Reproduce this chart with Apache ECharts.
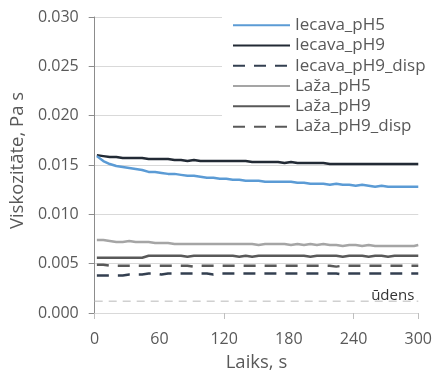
<!DOCTYPE html>
<html>
<head>
<meta charset="utf-8">
<script src="https://cdn.jsdelivr.net/npm/echarts@6/dist/echarts.min.js"></script>
<style>
  html, body { margin: 0; padding: 0; background: #fff; }
  #chart { width: 435px; height: 378px; }
</style>
</head>
<body>
<div id="chart"></div>
<script>
// Measurement times, s
const times = [2, 8, 14, 20, 26, 32, 38, 44, 50, 56, 62, 68, 74, 80, 86, 92, 98, 104, 110, 116,
  122, 128, 134, 140, 146, 152, 158, 164, 170, 176, 182, 188, 194, 200, 206, 212, 218, 224, 230, 236,
  242, 248, 254, 260, 266, 272, 278, 284, 290, 296, 300];

// Viscosity, Pa s
const iecavaPH5 = [0.0159, 0.0154, 0.0151, 0.0149, 0.0148, 0.0147, 0.0146, 0.0145, 0.0143, 0.0143,
  0.0142, 0.0141, 0.0141, 0.0140, 0.0139, 0.0139, 0.0138, 0.0137, 0.0137, 0.0136,
  0.0136, 0.0135, 0.0135, 0.0134, 0.0134, 0.0134, 0.0133, 0.0133, 0.0133, 0.0133,
  0.0133, 0.0132, 0.0132, 0.0131, 0.0131, 0.0131, 0.0130, 0.0131, 0.0130, 0.0130,
  0.0129, 0.0130, 0.0129, 0.0128, 0.0129, 0.0128, 0.0128, 0.0128, 0.0128, 0.0128, 0.0128];
const iecavaPH9 = [0.0160, 0.0159, 0.0158, 0.0158, 0.0157, 0.0157, 0.0157, 0.0157, 0.0156, 0.0156,
  0.0156, 0.0156, 0.0155, 0.0155, 0.0154, 0.0155, 0.0154, 0.0154, 0.0154, 0.0154,
  0.0154, 0.0154, 0.0154, 0.0154, 0.0153, 0.0153, 0.0153, 0.0153, 0.0153, 0.0152,
  0.0153, 0.0152, 0.0152, 0.0152, 0.0152, 0.0152, 0.0151, 0.0151, 0.0151, 0.0151,
  0.0151, 0.0151, 0.0151, 0.0151, 0.0151, 0.0151, 0.0151, 0.0151, 0.0151, 0.0151, 0.0151];
const iecavaPH9disp = [0.0038, 0.0038, 0.0038, 0.0038, 0.0038, 0.0039, 0.0039, 0.0039, 0.0040, 0.0040,
  0.0039, 0.0040, 0.0040, 0.0040, 0.0040, 0.0040, 0.0040, 0.0040, 0.0039, 0.0040,
  0.0040, 0.0040, 0.0040, 0.0040, 0.0040, 0.0040, 0.0040, 0.0040, 0.0040, 0.0040,
  0.0040, 0.0040, 0.0040, 0.0040, 0.0040, 0.0040, 0.0040, 0.0040, 0.0039, 0.0040,
  0.0040, 0.0040, 0.0040, 0.0040, 0.0040, 0.0040, 0.0040, 0.0040, 0.0040, 0.0040, 0.0040];
const lazaPH5 = [0.0074, 0.0074, 0.0073, 0.0072, 0.0072, 0.0073, 0.0072, 0.0072, 0.0072, 0.0071,
  0.0071, 0.0071, 0.0070, 0.0070, 0.0070, 0.0070, 0.0070, 0.0070, 0.0070, 0.0070,
  0.0070, 0.0070, 0.0070, 0.0070, 0.0070, 0.0069, 0.0070, 0.0070, 0.0070, 0.0070,
  0.0069, 0.0070, 0.0069, 0.0070, 0.0069, 0.0070, 0.0069, 0.0069, 0.0068, 0.0069,
  0.0069, 0.0068, 0.0069, 0.0068, 0.0068, 0.0068, 0.0068, 0.0068, 0.0068, 0.0068, 0.0069];
const lazaPH9 = [0.0056, 0.0056, 0.0056, 0.0056, 0.0056, 0.0056, 0.0056, 0.0056, 0.0058, 0.0058,
  0.0058, 0.0058, 0.0058, 0.0058, 0.0057, 0.0058, 0.0058, 0.0058, 0.0058, 0.0058,
  0.0058, 0.0058, 0.0057, 0.0058, 0.0057, 0.0058, 0.0058, 0.0058, 0.0058, 0.0058,
  0.0058, 0.0058, 0.0058, 0.0057, 0.0058, 0.0058, 0.0058, 0.0058, 0.0057, 0.0058,
  0.0058, 0.0058, 0.0057, 0.0058, 0.0058, 0.0057, 0.0058, 0.0058, 0.0058, 0.0058, 0.0058];
const lazaPH9disp = [0.0049, 0.0049, 0.0048, 0.0048, 0.0048, 0.0048, 0.0048, 0.0048, 0.0048, 0.0048,
  0.0048, 0.0048, 0.0048, 0.0048, 0.0048, 0.0047, 0.0048, 0.0048, 0.0048, 0.0048,
  0.0048, 0.0048, 0.0048, 0.0048, 0.0048, 0.0048, 0.0048, 0.0048, 0.0048, 0.0048,
  0.0048, 0.0048, 0.0048, 0.0048, 0.0048, 0.0048, 0.0048, 0.0047, 0.0048, 0.0048,
  0.0048, 0.0048, 0.0048, 0.0048, 0.0048, 0.0048, 0.0048, 0.0048, 0.0048, 0.0048, 0.0048];
// Reference viscosity of water
const waterTimes = [0, 300];
const water = [0.0012, 0.0012];

const names = ['Iecava_pH5', 'Iecava_pH9', 'Iecava_pH9_disp', 'Laža_pH5', 'Laža_pH9', 'Laža_pH9_disp'];
const xTicks = [0, 60, 120, 180, 240, 300];
const yTicks = [0, 0.005, 0.010, 0.015, 0.020, 0.025, 0.030];

const FONT = '"Open Sans", "Noto Sans", sans-serif';
const TXT = '#595959';

const pair = (xs, ys) => xs.map((x, i) => [x, ys[i]]);

function lineSeries(name, ys, color, dashed) {
  return {
    name, type: 'line', data: pair(times, ys), symbol: 'none', silent: true, animation: false,
    lineStyle: { color, width: 2.5, type: dashed ? [12, 9] : 'solid' },
    itemStyle: { color }
  };
}

const chart = echarts.init(document.getElementById('chart'));
chart.setOption({
  animation: false,
  grid: { left: 94, right: 14, top: 17, bottom: 65 },
  legend: {
    data: names, orient: 'vertical', left: 222, top: 12,
    itemWidth: 57, itemHeight: 12, itemGap: 0,
    backgroundColor: '#fff', padding: [3, 4, 3, 10],
    itemStyle: { opacity: 0 },
    textStyle: { color: TXT, fontFamily: FONT, fontSize: 17, lineHeight: 20.3 }
  },
  xAxis: [{
    type: 'value', min: 0, max: 300, interval: 60,
    name: 'Laiks, s', nameLocation: 'middle', nameGap: 40,
    nameTextStyle: { color: TXT, fontFamily: FONT, fontSize: 18.5 },
    axisLine: { show: true, onZero: false, lineStyle: { color: '#D9D9D9' } },
    axisTick: { show: false },
    splitLine: { show: false },
    axisLabel: { color: TXT, fontFamily: FONT, fontSize: 16, margin: 18,
      formatter: v => xTicks.includes(v) ? String(v) : '' }
  }, {
    type: 'value', min: 0, max: 300, interval: 120, position: 'bottom',
    axisLine: { show: false },
    axisTick: { show: true, length: 6, inside: false, lineStyle: { color: '#BFBFBF' } },
    axisLabel: { show: false }, splitLine: { show: false }
  }],
  yAxis: {
    type: 'value', min: 0, max: 0.03, interval: 0.005,
    name: 'Viskozitāte, Pa s', nameLocation: 'middle', nameGap: 64,
    nameTextStyle: { color: TXT, fontFamily: FONT, fontSize: 18.5, padding: [0, 0, 0, 9] },
    axisLine: { show: true, lineStyle: { color: '#8C8C8C', width: 1 } },
    axisTick: { show: true, length: 6, lineStyle: { color: '#8C8C8C' } },
    splitLine: { lineStyle: { color: '#D9D9D9' } },
    axisLabel: { color: TXT, fontFamily: FONT, fontSize: 16, margin: 16,
      formatter: v => yTicks.some(t => Math.abs(t - v) < 1e-9) ? v.toFixed(3) : '' }
  },
  series: [
    {
      name: 'ūdens', type: 'line', data: pair(waterTimes, water), symbol: 'none', silent: true,
      lineStyle: { color: '#D0D0D0', width: 1.5, type: [8, 6] },
      label: { show: false },
      endLabel: { show: true, formatter: 'ūdens', color: '#333333', fontFamily: FONT, fontSize: 15,
        align: 'right', verticalAlign: 'bottom', offset: [-12, 2] }
    },
    lineSeries(names[5], lazaPH9disp, '#595959', true),
    lineSeries(names[4], lazaPH9, '#595959', false),
    lineSeries(names[3], lazaPH5, '#A5A5A5', false),
    lineSeries(names[2], iecavaPH9disp, '#333F50', true),
    lineSeries(names[1], iecavaPH9, '#222A35', false),
    lineSeries(names[0], iecavaPH5, '#5B9BD5', false)
  ]
});
</script>
</body>
</html>
